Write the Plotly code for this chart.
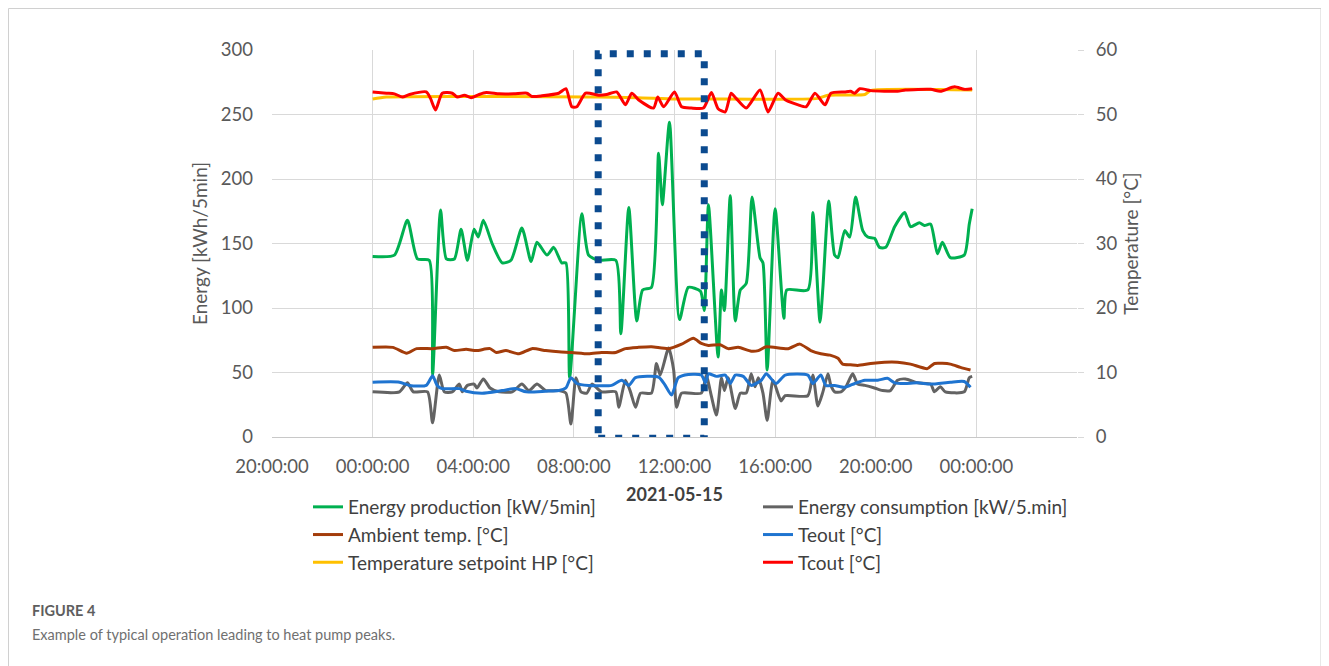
import plotly.graph_objects as go

DAY = "2021-05-15"

# ---- data ----
prod_t = ["00:00","00:52","01:23","01:47","02:15","02:23","02:42","02:56","03:15","03:31","03:46","04:02","04:12","04:24",
          "04:45","05:09","05:30","05:56","06:18","06:32","06:56","07:12","07:31","07:41","07:50","08:19","08:35","08:59",
          "09:40","09:52","10:11","10:30","10:44","11:05","11:22","11:31","11:48","12:12","12:33","13:02","13:11","13:21",
          "13:44","13:52","13:59","14:13","14:25","14:37","14:51","15:05","15:24","15:31","15:41","16:00","16:21","16:28",
          "17:18","17:30","17:47","17:54","18:08","18:22","18:30","18:46","18:58","19:12","19:29","19:41","19:57","20:09",
          "20:24","20:45","21:09","21:23","21:44","21:56","22:11","22:27","22:39","22:58","23:31","23:43","23:50"]
prod_v = [140,141,168,138,137,48,176,138,138,161,137,161,155,168,
          150,135,137,162,136,151,141,147,135,135,46,173,141,137,
          137,80,178,90,114,116,220,180,244,91,116,113,98,180,
          62,114,98,187,90,114,119,186,139,135,52,177,92,114,
          114,174,89,116,183,141,139,160,155,186,160,155,154,147,
          147,163,174,163,166,164,165,142,151,139,141,165,177]

cons_t = ["00:00","01:04","01:23","01:37","02:11","02:23","02:39","02:51","03:10","03:27","03:34","03:46","04:02","04:09",
          "04:24","04:40","05:02","05:33","05:56","06:13","06:32","06:53","07:24","07:41","07:53","08:05","08:17","08:31",
          "08:43","09:06","09:40","09:47","10:03","10:15","10:27","10:39","11:05","11:17","11:26","11:46","11:58","12:05",
          "12:17","13:04","13:16","13:25","13:40","13:52","13:59","14:08","14:25","14:37","14:51","15:03","15:12","15:20",
          "15:31","15:41","15:55","16:14","16:24","17:18","17:30","17:42","17:54","18:06","18:13","18:22","18:37","18:49",
          "19:05","19:17","19:34","19:57","20:16","20:35","20:52","21:11","21:40","22:11","22:20","22:34","22:46","23:31",
          "23:43","23:50"]
cons_v = [35,35,42,35,35,11,48,35,35,41,35,40,41,38,
          45,38,35,35,41,36,41,36,36,34,10,46,35,34,
          41,35,35,23,44,35,23,34,34,57,48,69,52,23,
          34,34,48,36,17,46,36,46,22,34,34,49,39,46,
          34,13,44,28,32,32,48,24,35,49,40,35,35,39,
          49,41,40,38,36,36,44,45,42,41,35,39,35,35,
          46,47]

amb_t = ["00:00","00:48","01:21","01:45","02:23","02:56","03:15","03:43","04:07","04:40","04:55","05:18","05:49","06:20",
         "06:53","07:24","07:55","08:35","09:06","09:40","10:03","10:34","11:05","11:46","12:17","12:45","13:04","13:21",
         "13:49","14:08","14:32","15:03","15:20","15:39","16:31","16:59","17:25","17:49","18:11","18:30","18:41","19:00",
         "19:17","19:48","20:21","20:52","21:23","22:03","22:20","22:58","23:22","23:46"]
amb_v = [13.9,13.9,13.0,13.7,13.7,13.9,13.4,13.6,13.4,13.7,13.1,13.4,12.9,13.7,
         13.4,13.2,13.1,12.9,13.1,13.1,13.7,13.9,14.0,13.7,14.4,15.3,14.5,14.2,
         14.3,13.7,13.9,13.3,13.4,14.0,13.7,14.4,13.4,12.9,12.7,12.2,11.3,11.2,
         11.1,11.4,11.6,11.6,11.3,10.6,11.4,11.3,10.8,10.4]

teout_t = ["00:00","01:04","01:28","02:08","02:23","02:34","02:46","03:27","03:43","04:21","05:09","05:42","06:06","06:53",
           "07:24","07:41","07:53","08:07","08:35","09:30","09:54","10:11","10:27","11:22","11:36","11:53","12:09","12:33",
           "13:04","13:14","13:21","13:40","14:01","14:13","14:25","14:44","15:03","15:27","15:39","16:02","16:24","17:18",
           "17:30","17:49","18:01","18:22","18:46","19:10","19:34","20:05","20:28","20:45","21:09","21:40","22:11","22:58",
           "23:31","23:46"]
teout_v = [8.5,8.5,8.0,8.0,9.5,8.0,7.5,7.5,7.1,6.8,7.2,7.5,7.0,7.1,
           7.2,7.6,9.2,8.3,8.0,8.0,8.8,8.0,9.2,9.3,8.2,6.5,9.2,9.7,
           9.6,8.4,9.8,9.4,9.6,8.3,9.6,9.4,8.0,8.8,9.8,8.3,9.6,9.6,
           8.3,9.6,8.0,8.0,7.7,8.3,8.8,8.8,9.1,8.4,8.3,8.4,8.2,8.5,
           8.6,7.7]

setp_t = ["00:00","00:33","08:59","10:30","12:00","13:11","17:42","18:06","19:34","19:48","23:50"]
setp_v = [52.4,52.7,52.7,52.6,52.4,52.4,52.5,53.0,53.1,53.7,53.8]

tcout_t = ["00:00","00:33","00:52","01:11","01:28","02:08","02:18","02:30","02:46","03:10","03:22","03:39","03:55","04:14",
           "04:31","05:02","05:37","06:08","06:20","06:44","07:24","07:41","07:55","08:07","08:28","08:59","09:18","09:42",
           "10:03","10:18","10:34","11:10","11:20","11:34","12:00","12:17","12:40","13:09","13:28","13:44","14:01","14:15",
           "14:27","14:51","15:24","15:43","16:07","16:26","16:55","17:14","17:35","17:59","18:13","18:46","19:00","19:10",
           "19:22","19:48","20:52","21:11","22:11","22:34","23:08","23:31","23:50"]
tcout_v = [53.5,53.3,53.2,52.7,53.1,53.5,52.5,50.7,53.3,53.3,52.7,53.0,52.6,53.1,
           53.4,53.2,53.2,53.3,52.8,52.9,53.3,54.0,51.2,51.2,53.3,53.0,53.1,53.5,
           51.5,53.3,52.3,51.0,52.7,51.2,53.5,51.2,51.0,51.0,53.4,50.9,50.4,53.3,
           52.5,51.0,53.8,50.4,53.3,52.2,51.5,51.2,53.3,51.5,53.3,53.5,53.6,53.3,
           54.0,53.7,53.6,53.8,53.9,53.6,54.3,53.9,54.0]

x_tickvals = ["2021-05-14 20:00", "2021-05-15 00:00", "2021-05-15 04:00", "2021-05-15 08:00",
              "2021-05-15 12:00", "2021-05-15 16:00", "2021-05-15 20:00", "2021-05-16 00:00",
              "2021-05-16 04:00"]
x_ticktext = ["20:00:00", "00:00:00", "04:00:00", "08:00:00", "12:00:00", "16:00:00",
              "20:00:00", "00:00:00", ""]
y_ticks = [0, 50, 100, 150, 200, 250, 300]
y2_ticks = [0, 10, 20, 30, 40, 50, 60]
highlight_x = ["2021-05-15 08:58", "2021-05-15 13:11"]
highlight_y = [-1, 297]


def ts(lst):
    return [f"{DAY} {t}" for t in lst]


FONT = "Lato"
TXT = "#595959"

fig = go.Figure()
series = [
    ("Energy production [kW/5min]", prod_t, prod_v, "#00b050", "y", "legend"),
    ("Energy consumption [kW/5.min]", cons_t, cons_v, "#636363", "y", "legend2"),
    ("Ambient temp. [°C]", amb_t, amb_v, "#a33c0a", "y2", "legend"),
    ("Teout [°C]", teout_t, teout_v, "#1f74d0", "y2", "legend2"),
    ("Temperature setpoint HP [°C]", setp_t, setp_v, "#ffc000", "y2", "legend"),
    ("Tcout [°C]", tcout_t, tcout_v, "#ff0000", "y2", "legend2"),
]
for name, t, v, col, ax, lg in series:
    fig.add_trace(go.Scatter(
        x=ts(t), y=v, name=name, mode="lines", yaxis=ax, legend=lg, legendgroup=name,
        line=dict(color=col, width=3, shape="spline", smoothing=0.6),
    ))

# the page body adds an 8px offset; work in page pixel coordinates
OFF = 8
W, H = 1329, 666
L, R, T, B = 272 - OFF, 1077 - OFF, 50 - OFF, 437 - OFF
pw, ph = R - L, B - T


def px(x):
    return (x - OFF - L) / pw


def py(y):
    return (B - (y - OFF)) / ph


fig.update_layout(
    width=W, height=H,
    margin=dict(l=L, r=W - R, t=T, b=H - B),
    paper_bgcolor="white", plot_bgcolor="white",
    font=dict(family=FONT, size=18, color=TXT),
    showlegend=True,
    legend=dict(x=px(308), y=py(488), xanchor="left", yanchor="top", orientation="v",
                font=dict(size=19, color="#404040"), tracegroupgap=0, bgcolor="rgba(0,0,0,0)"),
    legend2=dict(x=px(758), y=py(488), xanchor="left", yanchor="top", orientation="v",
                 font=dict(size=19, color="#404040"), tracegroupgap=0, bgcolor="rgba(0,0,0,0)"),
    xaxis=dict(
        type="date", range=["2021-05-14 20:00", "2021-05-16 04:00"],
        tickvals=x_tickvals, ticktext=x_ticktext, showgrid=True, gridcolor="#d9d9d9", gridwidth=1,
        showline=True, linecolor="#c8c8c8", linewidth=1, zeroline=False, ticks="",
        tickfont=dict(size=18.5, color=TXT), ticklabelstandoff=13,
        title=dict(text="<b>2021-05-15</b>", font=dict(size=18, color="#404040"), standoff=12),
    ),
    yaxis=dict(
        range=[0, 300], tickvals=y_ticks, showgrid=True, gridcolor="#d9d9d9", gridwidth=1,
        zeroline=False, showline=False, ticks="", tickfont=dict(size=18.5, color=TXT),
        ticklabelstandoff=18,
        title=dict(text="Energy [kWh/5min]", font=dict(size=19, color=TXT), standoff=8),
    ),
    yaxis2=dict(
        range=[0, 60], tickvals=y2_ticks, overlaying="y", side="right", showgrid=False,
        zeroline=False, showline=False, ticks="outside", ticklen=6, tickcolor="#d9d9d9",
        tickfont=dict(size=18.5, color=TXT), ticklabelstandoff=8,
        title=dict(text="Temperature [°C]", font=dict(size=19, color=TXT), standoff=8),
    ),
)

# highlighted window (dotted rectangle)
fig.add_shape(type="rect", xref="x", yref="y",
              x0=highlight_x[0], x1=highlight_x[1], y0=highlight_y[0], y1=highlight_y[1],
              line=dict(color="#0b4a8f", width=7, dash="7px,10px"), fillcolor="rgba(0,0,0,0)",
              layer="above")

# page border
fig.add_shape(type="path", xref="paper", yref="paper",
              path=f"M {px(8.5)} {py(700)} L {px(8.5)} {py(8.5)} L {px(1321)} {py(8.5)} L {px(1321)} {py(700)}",
              line=dict(color="#d0d0d0", width=1))

# caption
fig.add_annotation(xref="paper", yref="paper", x=px(30), y=py(610), xanchor="left", yanchor="middle",
                   text="<b>FIGURE 4</b>", showarrow=False,
                   font=dict(family=FONT, size=14.5, color="#5e5e5e"))
fig.add_annotation(xref="paper", yref="paper", x=px(30), y=py(634), xanchor="left", yanchor="middle",
                   text="Example of typical operation leading to heat pump peaks.", showarrow=False,
                   font=dict(family=FONT, size=14.5, color="#707070"))

fig.write_html("out.html")
